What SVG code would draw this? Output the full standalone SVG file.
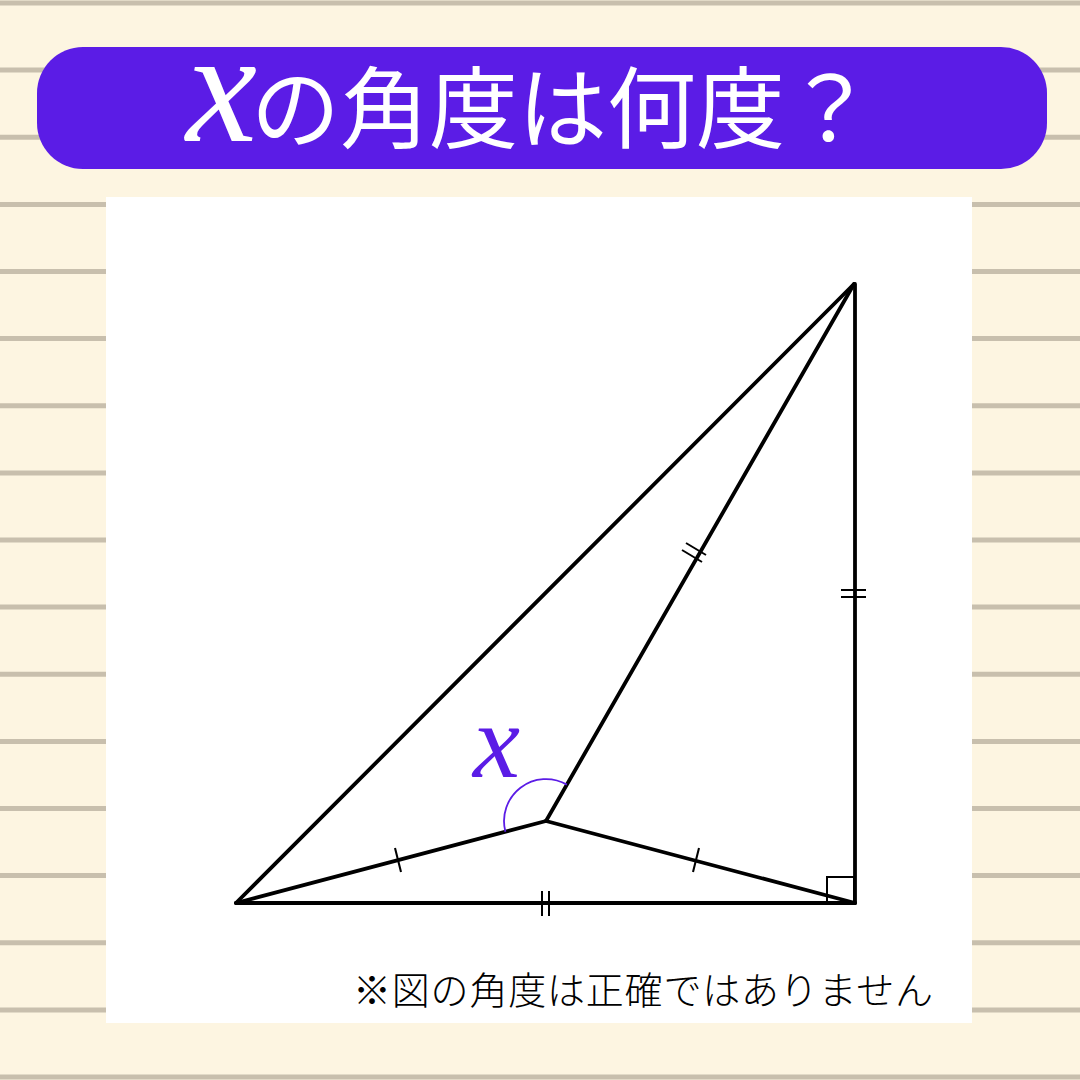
<svg xmlns="http://www.w3.org/2000/svg" width="1080" height="1080" viewBox="0 0 1080 1080">
<style>
.stripe{stroke:#c8bfad;stroke-width:5}
.edge{stroke:#000;stroke-width:3.8;fill:none;stroke-linecap:round;stroke-linejoin:round}
.tick{stroke:#000;stroke-width:2;fill:none}
.jp{font-family:"Noto Sans CJK JP","Noto Sans",sans-serif}
</style>
<rect x="0" y="0" width="1080" height="1080" fill="#fdf5e1"/>
<g id="stripes">
<line class="stripe" x1="0" y1="3" x2="1080" y2="3"/>
<line class="stripe" x1="0" y1="70.1" x2="1080" y2="70.1"/>
<line class="stripe" x1="0" y1="137.3" x2="1080" y2="137.3"/>
<line class="stripe" x1="0" y1="204.4" x2="1080" y2="204.4"/>
<line class="stripe" x1="0" y1="271.5" x2="1080" y2="271.5"/>
<line class="stripe" x1="0" y1="338.6" x2="1080" y2="338.6"/>
<line class="stripe" x1="0" y1="405.8" x2="1080" y2="405.8"/>
<line class="stripe" x1="0" y1="472.9" x2="1080" y2="472.9"/>
<line class="stripe" x1="0" y1="540" x2="1080" y2="540"/>
<line class="stripe" x1="0" y1="607.1" x2="1080" y2="607.1"/>
<line class="stripe" x1="0" y1="674.3" x2="1080" y2="674.3"/>
<line class="stripe" x1="0" y1="741.4" x2="1080" y2="741.4"/>
<line class="stripe" x1="0" y1="808.5" x2="1080" y2="808.5"/>
<line class="stripe" x1="0" y1="875.6" x2="1080" y2="875.6"/>
<line class="stripe" x1="0" y1="942.8" x2="1080" y2="942.8"/>
<line class="stripe" x1="0" y1="1009.9" x2="1080" y2="1009.9"/>
<line class="stripe" x1="0" y1="1077" x2="1080" y2="1077"/>
</g>
<g id="title">
<rect x="37" y="47" width="1010" height="122" rx="46" ry="46" fill="#5b1ce6"/>
<text y="141" fill="#ffffff"><tspan x="186" font-family="Liberation Serif, serif" font-style="italic" font-size="160">x</tspan><tspan x="251" class="jp" font-size="89" font-weight="400">の角度は何度？</tspan></text>
</g>
<rect id="panel" x="106" y="197" width="866" height="826" fill="#ffffff"/>
<g id="connectors">
<line class="edge" x1="236" y1="903" x2="854" y2="284"/>
<line class="edge" x1="236" y1="903" x2="855" y2="903"/>
<line class="edge" x1="855" y1="903" x2="855" y2="284"/>
<line class="edge" x1="236" y1="903" x2="546" y2="821"/>
<line class="edge" x1="546" y1="821" x2="855" y2="903"/>
<line class="edge" x1="546" y1="821" x2="854" y2="284"/>
</g>
<g id="marks">
<line class="tick" x1="395" y1="848" x2="401" y2="872"/>
<line class="tick" x1="699" y1="848" x2="693" y2="872"/>
<line class="tick" x1="686" y1="543" x2="706" y2="555"/>
<line class="tick" x1="682" y1="550" x2="702" y2="562"/>
<line class="tick" x1="841" y1="590" x2="866" y2="590"/>
<line class="tick" x1="841" y1="597" x2="866" y2="597"/>
<line class="tick" x1="542" y1="891" x2="542" y2="916"/>
<line class="tick" x1="549" y1="891" x2="549" y2="916"/>
<rect class="tick" x="827" y="877" width="27" height="26"/>
</g>
<g id="angle-x">
<path d="M 505.4 831.7 A 42 42 0 0 1 566.9 784.6" fill="none" stroke="#5b1ce6" stroke-width="1.8"/>
<text x="473" y="777" font-family="Liberation Serif, serif" font-style="italic" font-size="106" fill="#5b1ce6">x</text>
</g>
<text id="note" x="353" y="1004" class="jp" font-size="38" font-weight="300" letter-spacing="0.8" fill="#000">※図の角度は正確ではありません</text>
</svg>
